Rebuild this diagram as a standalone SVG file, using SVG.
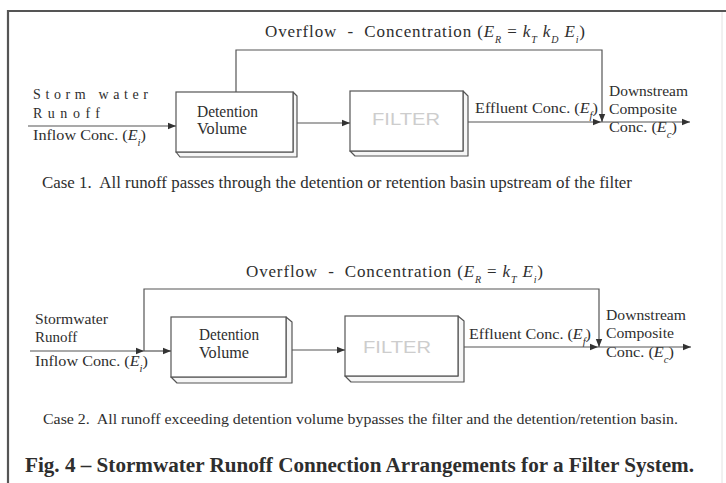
<svg xmlns="http://www.w3.org/2000/svg" width="726" height="483" viewBox="0 0 726 483">
  <style>
    text { font-family: "Liberation Serif", "Times New Roman", serif; fill: #2e2e2e; white-space: pre; }
    .t17 { font-size: 17px; }
    .t16 { font-size: 16px; }
    .t15 { font-size: 15px; }
    .t14 { font-size: 14px; }
    .sub { font-size: 10px; font-style: italic; }
    .it { font-style: italic; }
    .face { fill: #fff; stroke: #555; stroke-width: 1.2; }
    .side { fill: #f6f6f6; stroke: #555; stroke-width: 1.2; stroke-linejoin: round; }
    .filt { font-family: "Liberation Sans", Arial, sans-serif; font-size: 17px; fill: #cdcdcd; }
    .ln { fill: none; stroke: #555; stroke-width: 1.2; }
    .frame { stroke: #555; stroke-width: 2.2; fill: none; }
  </style>
  <defs>
    <marker id="ah" markerUnits="userSpaceOnUse" markerWidth="10" markerHeight="10" viewBox="0 0 10 10" refX="9" refY="5" orient="auto">
      <path d="M1,1.8 L9,5 L1,8.2 Z" fill="#333"/>
    </marker>
  </defs>

  <rect width="726" height="483" fill="#fff"/>

  <!-- outer frame -->
  <g id="frame">
    <path class="frame" d="M8,483 V11 H726"/>
    <line x1="722" y1="12" x2="722" y2="483" stroke="#e2e2e2" stroke-width="1"/>
  </g>

  <!-- ===== Case 1 ===== -->
  <g id="case1-labels">
    <text xml:space="preserve" class="t17" x="265" y="37" textLength="320" lengthAdjust="spacing">Overflow  -  Concentration (<tspan class="it">E</tspan><tspan class="sub" baseline-shift="sub">R</tspan> = <tspan class="it">k</tspan><tspan class="sub" baseline-shift="sub">T</tspan> <tspan class="it">k</tspan><tspan class="sub" baseline-shift="sub">D</tspan> <tspan class="it">E</tspan><tspan class="sub" baseline-shift="sub">i</tspan>)</text>
    <text class="t14" x="33" y="99" textLength="115" lengthAdjust="spacing">Storm water</text>
    <text class="t14" x="33" y="118" textLength="67" lengthAdjust="spacing">Runoff</text>
    <text class="t15" x="33" y="140" textLength="113" lengthAdjust="spacingAndGlyphs">Inflow Conc. (<tspan class="it">E</tspan><tspan class="sub" baseline-shift="sub">i</tspan>)</text>
    <text class="t15" x="475" y="113" textLength="123" lengthAdjust="spacingAndGlyphs">Effluent Conc. (<tspan class="it">E</tspan><tspan class="sub" baseline-shift="sub">f</tspan>)</text>
    <text class="t15" x="609" y="96" textLength="79" lengthAdjust="spacingAndGlyphs">Downstream</text>
    <text class="t15" x="609" y="114" textLength="68" lengthAdjust="spacingAndGlyphs">Composite</text>
    <text class="t15" x="609" y="132" textLength="68" lengthAdjust="spacingAndGlyphs">Conc. (<tspan class="it">E</tspan><tspan class="sub" baseline-shift="sub">c</tspan>)</text>
    <text xml:space="preserve" class="t17" x="42" y="188" textLength="590" lengthAdjust="spacingAndGlyphs">Case 1.  All runoff passes through the detention or retention basin upstream of the filter</text>
  </g>

  <g id="detention1">
    <path class="side" d="M293,92 L297,96 L297,157 L180,157 L176,152 L293,152 Z"/>
    <rect class="face" x="176" y="92" width="117" height="60"/>
    <text class="t16" x="197" y="117" textLength="61" lengthAdjust="spacingAndGlyphs">Detention</text>
    <text class="t16" x="197" y="134" textLength="50" lengthAdjust="spacingAndGlyphs">Volume</text>
  </g>

  <g id="filter1">
    <path class="side" d="M463,91 L468,96 L468,156 L355,156 L350,151 L463,151 Z"/>
    <rect class="face" x="350" y="91" width="113" height="60"/>
    <text class="filt" x="372" y="125" textLength="68" lengthAdjust="spacingAndGlyphs">FILTER</text>
  </g>

  <g id="connectors1">
    <line class="ln" x1="28" y1="126" x2="176" y2="126" marker-end="url(#ah)"/>
    <line class="ln" x1="297" y1="123" x2="350" y2="123" marker-end="url(#ah)"/>
    <polyline class="ln" points="236,92 236,50 602,50 602,122" marker-end="url(#ah)"/>
    <line class="ln" x1="468" y1="122" x2="601" y2="122" marker-end="url(#ah)"/>
    <line class="ln" x1="601" y1="122" x2="690" y2="122" marker-end="url(#ah)"/>
  </g>

  <!-- ===== Case 2 ===== -->
  <g id="case2-labels">
    <text xml:space="preserve" class="t17" x="246" y="277" textLength="297" lengthAdjust="spacing">Overflow  -  Concentration (<tspan class="it">E</tspan><tspan class="sub" baseline-shift="sub">R</tspan> = <tspan class="it">k</tspan><tspan class="sub" baseline-shift="sub">T</tspan> <tspan class="it">E</tspan><tspan class="sub" baseline-shift="sub">i</tspan>)</text>
    <text class="t15" x="35" y="324" textLength="73" lengthAdjust="spacingAndGlyphs">Stormwater</text>
    <text class="t15" x="35" y="342">Runoff</text>
    <text class="t15" x="35" y="366" textLength="113" lengthAdjust="spacingAndGlyphs">Inflow Conc. (<tspan class="it">E</tspan><tspan class="sub" baseline-shift="sub">i</tspan>)</text>
    <text class="t15" x="469" y="339" textLength="122" lengthAdjust="spacingAndGlyphs">Effluent Conc. (<tspan class="it">E</tspan><tspan class="sub" baseline-shift="sub">f</tspan>)</text>
    <text class="t15" x="606" y="320" textLength="80" lengthAdjust="spacingAndGlyphs">Downstream</text>
    <text class="t15" x="606" y="338" textLength="68" lengthAdjust="spacingAndGlyphs">Composite</text>
    <text class="t15" x="606" y="357" textLength="68" lengthAdjust="spacingAndGlyphs">Conc. (<tspan class="it">E</tspan><tspan class="sub" baseline-shift="sub">c</tspan>)</text>
    <text xml:space="preserve" class="t15" x="43" y="424" textLength="635" lengthAdjust="spacingAndGlyphs">Case 2.  All runoff exceeding detention volume bypasses the filter and the detention/retention basin.</text>
  </g>

  <g id="detention2">
    <path class="side" d="M286,317 L292,322 L292,383 L177,383 L171,377 L286,377 Z"/>
    <rect class="face" x="171" y="317" width="115" height="60"/>
    <text class="t16" x="199" y="340" textLength="60" lengthAdjust="spacingAndGlyphs">Detention</text>
    <text class="t16" x="199" y="358" textLength="50" lengthAdjust="spacingAndGlyphs">Volume</text>
  </g>

  <g id="filter2">
    <path class="side" d="M458,316 L464,321 L464,382 L351,382 L345,376 L458,376 Z"/>
    <rect class="face" x="345" y="316" width="113" height="60"/>
    <text class="filt" x="363" y="353" textLength="68" lengthAdjust="spacingAndGlyphs">FILTER</text>
  </g>

  <g id="connectors2">
    <line class="ln" x1="30" y1="351" x2="144" y2="351" marker-end="url(#ah)"/>
    <line class="ln" x1="144" y1="351" x2="171" y2="351" marker-end="url(#ah)"/>
    <polyline class="ln" points="144,351 144,289 599,289 599,347" marker-end="url(#ah)"/>
    <line class="ln" x1="292" y1="350" x2="345" y2="350" marker-end="url(#ah)"/>
    <line class="ln" x1="464" y1="347" x2="598" y2="347" marker-end="url(#ah)"/>
    <line class="ln" x1="598" y1="347" x2="691" y2="347" marker-end="url(#ah)"/>
  </g>

  <g id="figure-caption">
    <text x="25" y="472" font-size="20" font-weight="bold" fill="#222" textLength="669" lengthAdjust="spacingAndGlyphs">Fig. 4 – Stormwater Runoff Connection Arrangements for a Filter System.</text>
  </g>
</svg>
